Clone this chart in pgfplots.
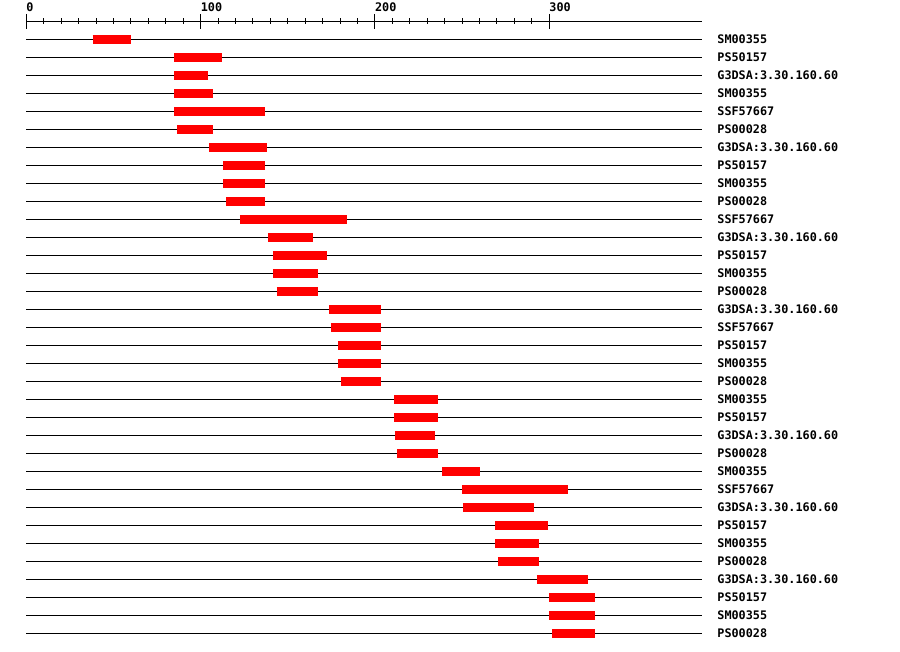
\documentclass[border=0pt]{standalone}
\usepackage{fontspec}
\setmonofont{DejaVu Sans Mono}
\usepackage{pgfplots}
\usepackage{pgfplotstable}
\pgfplotsset{compat=1.18}

% row (negative so row 1 is on top), domain start, domain end
\pgfplotstableread{
row start end
-1  38    60
-2  85    112
-3  85    104
-4  85    107
-5  85    137
-6  86.5  107
-7  105   138
-8  113   137
-9  113   137
-10 114.6 137
-11 122.6 184
-12 138.7 164.5
-13 141.5 172.5
-14 141.5 167.3
-15 143.8 167.3
-16 173.7 203.5
-17 174.8 203.5
-18 178.8 203.5
-19 178.8 203.5
-20 180.5 203.5
-21 211   236
-22 211   236
-23 211.5 234.5
-24 212.7 236
-25 238.5 260.3
-26 250   311
-27 250.5 291.3
-28 269   299.3
-29 269   294
-30 270.6 294
-31 293   322.3
-32 300   326.2
-33 300   326.2
-34 301.8 326.2
}\domains

\begin{document}
\begin{tikzpicture}
\begin{axis}[
    scale only axis, width=675.4pt, height=621pt,
    xmin=0, xmax=387.5, ymin=-34.5, ymax=0,
    axis x line=top, axis y line=right,
    x axis line style={-, line width=1pt},
    y axis line style={draw=none},
    xtick={0,100,200,300}, minor x tick num=9,
    tick align=center,
    major tick length=15pt, minor tick length=6.4pt,
    xtick style={black, line width=1pt},
    minor x tick style={black, line width=1pt},
    ytick style={draw=none},
    ytick={-1,-2,...,-34},
    yticklabels={SM00355,PS50157,G3DSA:3.30.160.60,SM00355,SSF57667,PS00028,
        G3DSA:3.30.160.60,PS50157,SM00355,PS00028,SSF57667,G3DSA:3.30.160.60,
        PS50157,SM00355,PS00028,G3DSA:3.30.160.60,SSF57667,PS50157,SM00355,
        PS00028,SM00355,PS50157,G3DSA:3.30.160.60,PS00028,SM00355,SSF57667,
        G3DSA:3.30.160.60,PS50157,SM00355,PS00028,G3DSA:3.30.160.60,PS50157,
        SM00355,PS00028},
    tick label style={font=\ttfamily\bfseries\fontsize{11.8}{12}\selectfont},
    /pgf/number format/assume math mode=true,
    xticklabel style={anchor=south west, inner sep=0pt, yshift=2pt},
    yticklabel style={anchor=west, inner sep=0pt, xshift=8pt},
    clip=false,
]
\coordinate (tl) at (rel axis cs:0,1);
\pgfplotsinvokeforeach{1,...,34}{
    \addplot[black, line width=1pt, no markers, forget plot]
        coordinates {(0,-#1) (387.5,-#1)};
}
\addplot[draw=none, no markers, forget plot,
    error bars/.cd, x dir=plus, x explicit, error mark=none,
    error bar style={draw=red, line width=9pt}]
    table[x=start, y=row, x error expr=\thisrow{end}-\thisrow{start}] {\domains};
\end{axis}
\path (tl) ++(-26.3pt,21.3pt) rectangle ++(900pt,-652pt);
\end{tikzpicture}
\end{document}
